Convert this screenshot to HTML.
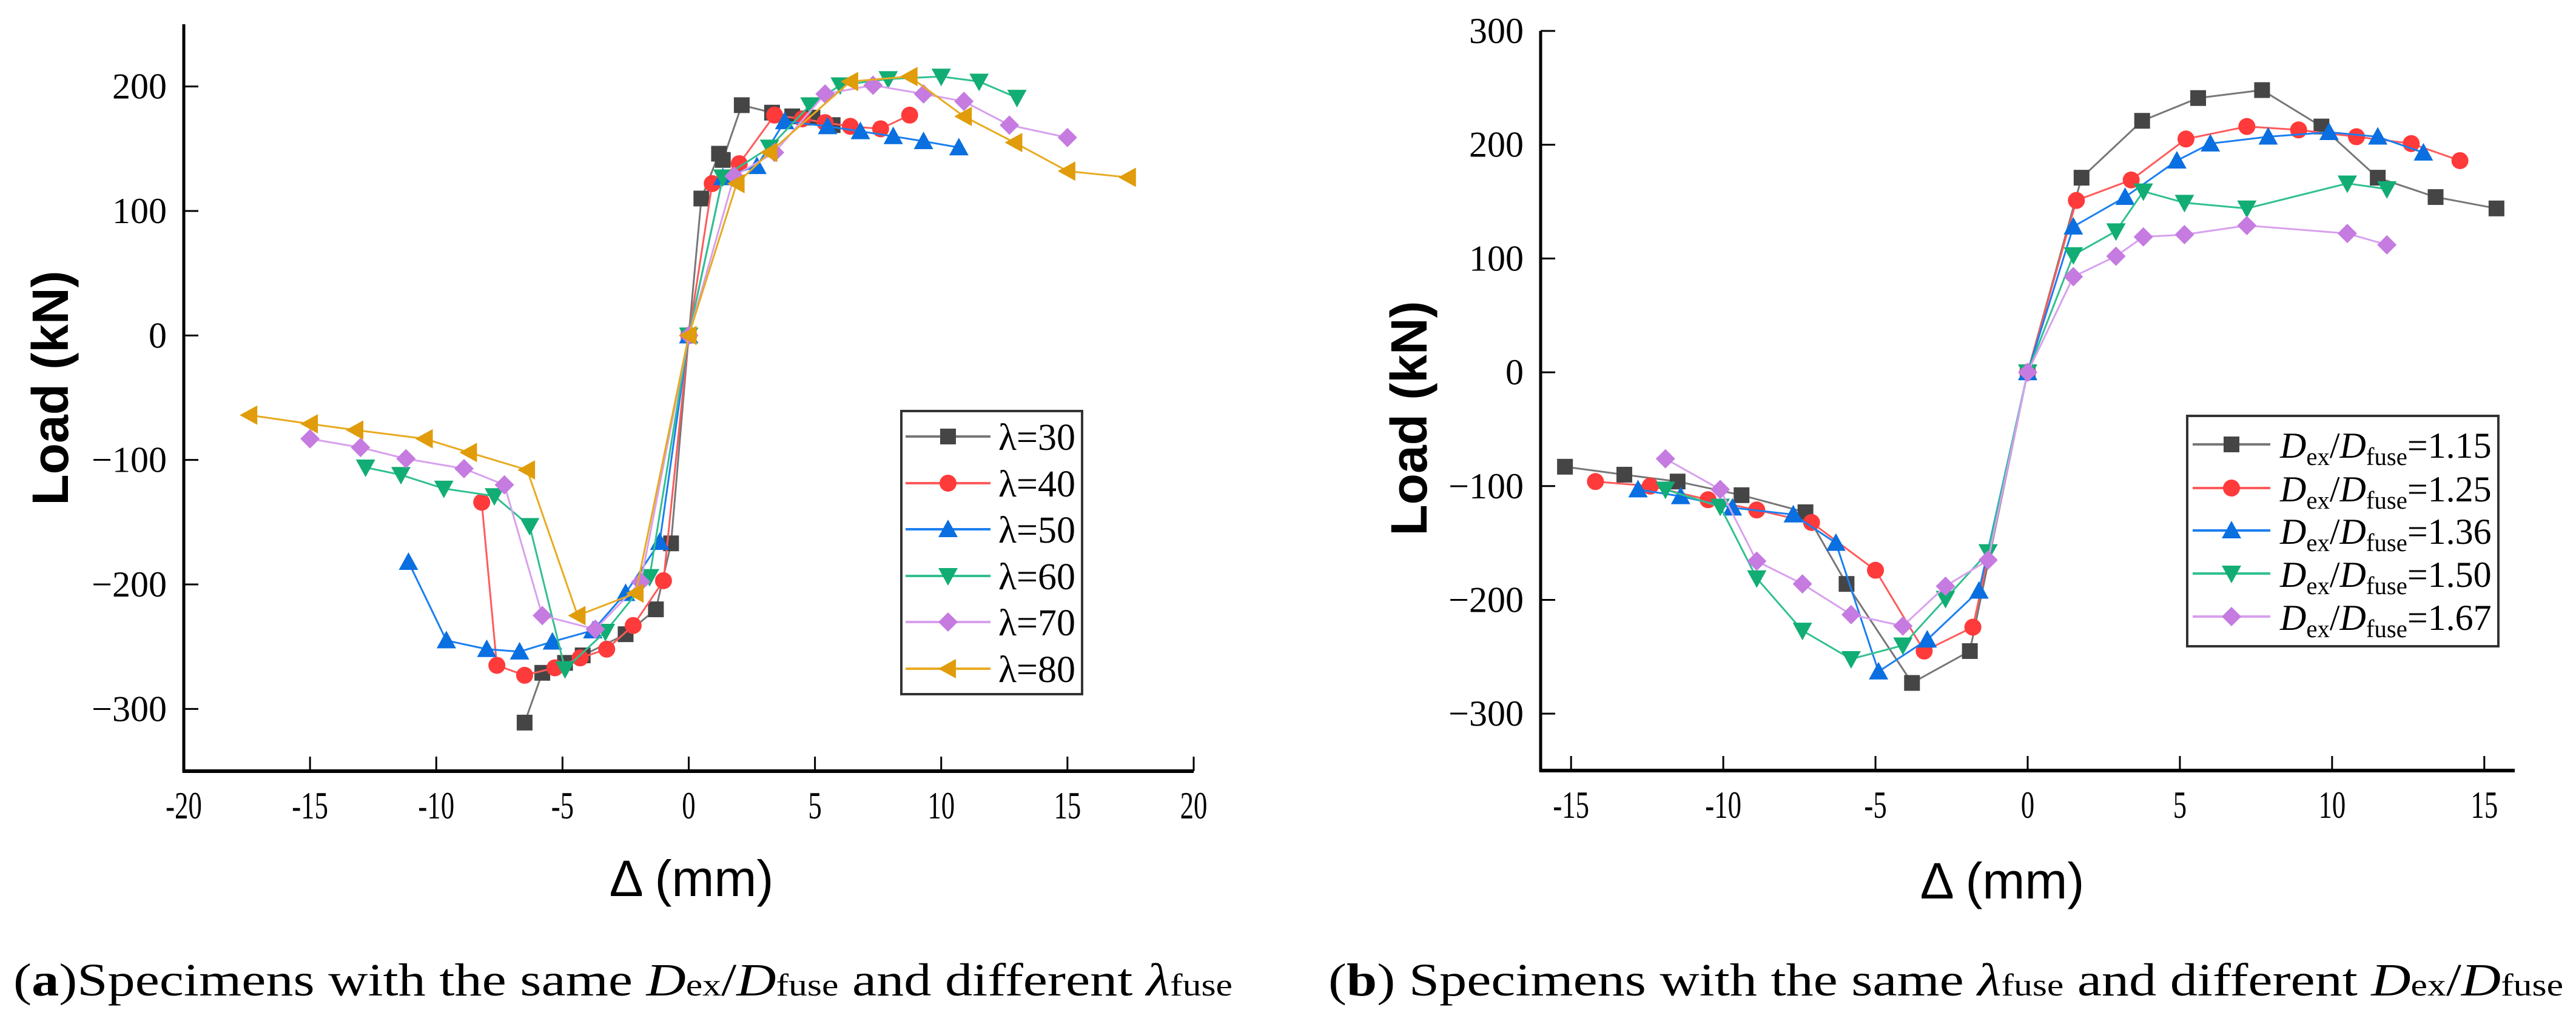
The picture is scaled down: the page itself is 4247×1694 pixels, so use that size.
<!DOCTYPE html>
<html><head><meta charset="utf-8">
<style>
html,body{margin:0;padding:0;background:#fff;}
svg{display:block;}
svg text{font-family:"Liberation Serif","Times New Roman",serif;}
</style></head>
<body>
<svg id="fig" width="4247" height="1694" viewBox="0 0 4247 1694" xmlns="http://www.w3.org/2000/svg">
<g id="chartA"></g>
<g id="chartB"></g>
<text font-family="Liberation Serif, serif" x="22" y="1642" font-size="76" textLength="2010" lengthAdjust="spacingAndGlyphs">(<tspan font-weight="bold">a</tspan>)Specimens with the same <tspan font-style="italic">D</tspan><tspan font-size="52">ex</tspan>/<tspan font-style="italic">D</tspan><tspan font-size="52">fuse</tspan> and different <tspan font-style="italic">λ</tspan><tspan font-size="52">fuse</tspan></text>
<text font-family="Liberation Serif, serif" x="2190" y="1642" font-size="76" textLength="2036" lengthAdjust="spacingAndGlyphs">(<tspan font-weight="bold">b</tspan>) Specimens with the same <tspan font-style="italic">λ</tspan><tspan font-size="52">fuse</tspan> and different <tspan font-style="italic">D</tspan><tspan font-size="52">ex</tspan>/<tspan font-style="italic">D</tspan><tspan font-size="52">fuse</tspan></text>
</svg>
<script>
// ---- Chart A data ----
const aNames = ["λ=30","λ=40","λ=50","λ=60","λ=70","λ=80"];
const aX30 = [-6.5,-5.8,-4.9,-4.2,-2.5,-1.3,-0.7,0,0.5,1.2,1.35,2.1,3.3,4.1,4.9,5.7];
const aY30 = [-311,-271,-263,-257,-240,-220,-167,0,110,146,141,185,179,176,175,169];
const aX40 = [-8.2,-7.6,-6.5,-5.3,-4.3,-3.25,-2.2,-1.0,0,0.93,2.0,3.4,4.5,5.4,6.4,7.6,8.75];
const aY40 = [-134,-265,-273,-267,-259,-252,-233,-197,0,122,138,177,174,171,168,166,177];
const aX50 = [-11.1,-9.6,-8.0,-6.7,-5.4,-3.8,-2.5,-1.15,0,1.35,2.7,3.8,5.5,6.8,8.1,9.3,10.7];
const aY50 = [-182,-245,-252,-254,-246,-237,-207,-166,0,127,136,172,168,164,160,156,151];
const aX60 = [-12.8,-11.4,-9.7,-7.7,-6.3,-4.9,-3.3,-1.55,0,1.35,3.2,4.8,6.0,7.9,10.0,11.5,13.0];
const aY60 = [-106,-112,-123,-129,-153,-268,-238,-194,0,127,151,185,201,206,208,204,191];
const aX70 = [-15,-13,-11.2,-8.9,-7.3,-5.8,-3.7,-1.9,0,1.8,3.4,5.4,7.3,9.3,10.9,12.7,15.0];
const aY70 = [-83,-90,-99,-107,-120,-225,-236,-198,0,128,147,194,201,194,188,169,159];
const aX80 = [-17.4,-15.0,-13.2,-10.45,-8.7,-6.4,-4.4,-2.1,0,1.9,3.2,6.4,8.75,10.9,12.9,15.0,17.4];
const aY80 = [-64,-71,-76,-83,-94,-108,-225,-207,0,122,147,204,208,176,155,132,127];
const aXTicks = [-20,-15,-10,-5,0,5,10,15,20];
const aYTicks = [-300,-200,-100,0,100,200];
// ---- Chart B data ----
const bNames = ["1.15","1.25","1.36","1.50","1.67"];
const bX115 = [-15.2,-13.25,-11.5,-9.4,-7.3,-5.95,-3.8,-1.9,0,1.77,3.76,5.6,7.7,9.65,11.5,13.4,15.4];
const bY115 = [-83,-90,-96,-108,-123,-186,-273,-245,0,171,221,241,248,216,171,154,144];
const bX125 = [-14.2,-12.4,-10.5,-8.9,-7.1,-5.0,-3.4,-1.8,0,1.6,3.4,5.2,7.2,8.9,10.8,12.6,14.2];
const bY125 = [-96,-100,-112,-121,-132,-174,-245,-224,0,151,169,205,216,213,207,201,186];
const bX136 = [-12.8,-11.4,-9.7,-7.7,-6.3,-4.9,-3.3,-1.6,0,1.5,3.2,4.9,6.0,7.9,9.9,11.5,13.0];
const bY136 = [-103,-109,-119,-125,-150,-263,-235,-192,0,128,154,186,201,207,211,207,193];
const bX150 = [-11.9,-10.1,-8.9,-7.4,-5.8,-4.1,-2.7,-1.3,0,1.5,2.9,3.8,5.15,7.2,10.5,11.8];
const bY150 = [-103,-118,-181,-227,-252,-240,-199,-158,0,103,124,159,149,144,166,161];
const bX167 = [-11.9,-10.1,-8.9,-7.4,-5.8,-4.1,-2.7,-1.3,0,1.5,2.9,3.8,5.15,7.2,10.5,11.8];
const bY167 = [-76,-103,-166,-186,-213,-223,-188,-165,0,84,102,119,121,129,122,112];
const bXTicks = [-15,-10,-5,0,5,10,15];
const bYTicks = [-300,-200,-100,0,100,200,300];

const NS = "http://www.w3.org/2000/svg";
const SERIF = "Liberation Serif, Times New Roman, serif";
function mk(tag, attrs, parent){
  const e = document.createElementNS(NS, tag);
  for (const k in attrs) e.setAttribute(k, attrs[k]);
  parent.appendChild(e);
  return e;
}
const colors = ["#454545","#ff3a3a","#0a6fe0","#12ad74","#c57be0","#e09c0a"];
const lineColors = ["#777777","#ff5a5a","#1a7ff0","#30c090","#d8a0ee","#e8aa20"];
const shapes = ["square","circle","up","down","diamond","left"];

function marker(g, shape, cx, cy, col){
  const s = 13;
  if (shape==="square") return mk("rect",{x:cx-s,y:cy-s,width:2*s,height:2*s,fill:col},g);
  if (shape==="circle") return mk("circle",{cx:cx,cy:cy,r:s+1,fill:col},g);
  const t = s+3;
  let p;
  if (shape==="up") p = [[cx,cy-t],[cx+t,cy+s],[cx-t,cy+s]];
  else if (shape==="down") p = [[cx,cy+t],[cx+t,cy-s],[cx-t,cy-s]];
  else if (shape==="diamond") p = [[cx,cy-t],[cx+t,cy],[cx,cy+t],[cx-t,cy]];
  else p = [[cx-t,cy],[cx+s,cy-t],[cx+s,cy+t]];
  return mk("polygon",{points:p.map(q=>q.join(",")).join(" "),fill:col},g);
}

function legendTextB(t, label, fs){
  const parts = [["D",{"font-style":"italic"}],["ex",{"font-size":fs*0.68,dy:12}],["/",{dy:-12}],["D",{"font-style":"italic"}],["fuse",{"font-size":fs*0.68,dy:12}],["="+label,{dy:-12}]];
  parts.forEach(p=>{
    const e = document.createElementNS(NS,"tspan");
    for (const k in p[1]) e.setAttribute(k,p[1][k]);
    e.textContent = p[0];
    t.appendChild(e);
  });
}

function drawChart(root, cfg){
  const X = v => cfg.x0 + (v - cfg.xmin)/(cfg.xmax-cfg.xmin)*(cfg.x1-cfg.x0);
  const Y = v => cfg.yb + (v - cfg.ymin)/(cfg.ymax-cfg.ymin)*(cfg.yt-cfg.yb);
  const ya = mk("line",{x1:cfg.x0,y1:cfg.yt,x2:cfg.x0,y2:cfg.yb+2,stroke:"#000","stroke-width":5},root);
  
  
  const xa = mk("line",{x1:cfg.x0-2,y1:cfg.yb,x2:cfg.x1,y2:cfg.yb,stroke:"#000","stroke-width":6},root);
  
  
  cfg.yTicks.forEach(v=>{
    const yy = Y(v);
    const t = mk("line",{x1:cfg.x0,y1:yy,x2:cfg.x0+24,y2:yy,stroke:"#000","stroke-width":3},root);
    
    
    const lab = mk("text",{x:cfg.x0-28,y:yy+20,"font-size":60,"text-anchor":"end","font-family":SERIF},root);
    lab.textContent = v<0 ? "\u2212"+Math.abs(v) : String(v);
    
    
  });
  cfg.xTicks.forEach(v=>{
    const xx = X(v);
    const t = mk("line",{x1:xx,y1:cfg.yb,x2:xx,y2:cfg.yb-24,stroke:"#000","stroke-width":3},root);
    
    
    const lab = mk("text",{x:0,y:0,"font-size":64,"text-anchor":"middle","font-family":SERIF,transform:"translate("+xx+","+(cfg.yb+78)+") scale(0.7,1)"},root);
    lab.textContent = v<0 ? "-"+Math.abs(v) : String(v);
    
    
  });
  cfg.series.forEach((s,i)=>{
    const g = mk("g",{},root);
    
    
    const pts = s.x.map((v,j)=>X(v)+","+Y(s.y[j])).join(" ");
    const pl = mk("polyline",{points:pts,fill:"none",stroke:lineColors[i],"stroke-width":3},g);
    
    
    s.x.forEach((v,j)=>{
      const m = marker(g, shapes[i], X(v), Y(s.y[j]), colors[i]);
      
      
    });
  });
  const yt = mk("text",{x:0,y:0,"font-size":84,"font-weight":"bold","text-anchor":"middle",transform:"translate("+cfg.ytx+","+cfg.yty+") rotate(-90)","font-family":"Liberation Sans, Arial, sans-serif",style:"font-family:'Liberation Sans',sans-serif"},root);
  yt.textContent = "Load (kN)";
  
  
  const xt = mk("text",{x:cfg.xtx,y:cfg.xty,"font-size":84,"text-anchor":"middle",style:"font-family:'Liberation Sans',sans-serif"},root);
  xt.textContent = "\u0394 (mm)";
  
  
  const L = cfg.legend;
  const lg = mk("g",{},root);
  
  
  mk("rect",{x:L.x,y:L.y,width:L.w,height:L.h,fill:"#fff",stroke:"#333","stroke-width":4},lg);
  cfg.series.forEach((s,i)=>{
    const ry = L.rows[i];
    const eg = mk("g",{},lg);
    
    
    mk("line",{x1:L.lx0,y1:ry,x2:L.lx1,y2:ry,stroke:lineColors[i],"stroke-width":4},eg);
    marker(eg, shapes[i], (L.lx0+L.lx1)/2, ry, colors[i]);
    const t = mk("text",{x:L.tx,y:ry+22,"font-size":L.fs,"font-family":SERIF},eg);
    if (cfg.legendType==="lambda") t.textContent = s.label;
    else legendTextB(t, s.label, L.fs);
  });
}

drawChart(document.getElementById("chartA"), {
  x0:303, x1:1968, xmin:-20, xmax:20,
  yb:1272, yt:40, ymin:-350, ymax:250,
  xTicks:aXTicks, yTicks:aYTicks,
  ytx:112, yty:640, xtx:1140, xty:1478,
  legendType:"lambda",
  legend:{x:1486,y:678,w:298,h:467,rows:[720,797,873,950,1026,1103],lx0:1493,lx1:1633,tx:1646,fs:62},
  series:[
    {key:"lambda-30",label:aNames[0],x:aX30,y:aY30},
    {key:"lambda-40",label:aNames[1],x:aX40,y:aY40},
    {key:"lambda-50",label:aNames[2],x:aX50,y:aY50},
    {key:"lambda-60",label:aNames[3],x:aX60,y:aY60},
    {key:"lambda-70",label:aNames[4],x:aX70,y:aY70},
    {key:"lambda-80",label:aNames[5],x:aX80,y:aY80}
  ]
});
drawChart(document.getElementById("chartB"), {
  x0:2540, x1:4146, xmin:-16, xmax:16,
  yb:1271, yt:51, ymin:-350, ymax:300,
  xTicks:bXTicks, yTicks:bYTicks,
  ytx:2352, yty:690, xtx:3301, xty:1482,
  legendType:"ratio",
  legend:{x:3606,y:686,w:513,h:380,rows:[733,805,875,946,1017],lx0:3615,lx1:3743,tx:3759,fs:60},
  series:[
    {key:"ratio-1-15",label:bNames[0],x:bX115,y:bY115},
    {key:"ratio-1-25",label:bNames[1],x:bX125,y:bY125},
    {key:"ratio-1-36",label:bNames[2],x:bX136,y:bY136},
    {key:"ratio-1-50",label:bNames[3],x:bX150,y:bY150},
    {key:"ratio-1-67",label:bNames[4],x:bX167,y:bY167}
  ]
});
</script>
</body></html>
